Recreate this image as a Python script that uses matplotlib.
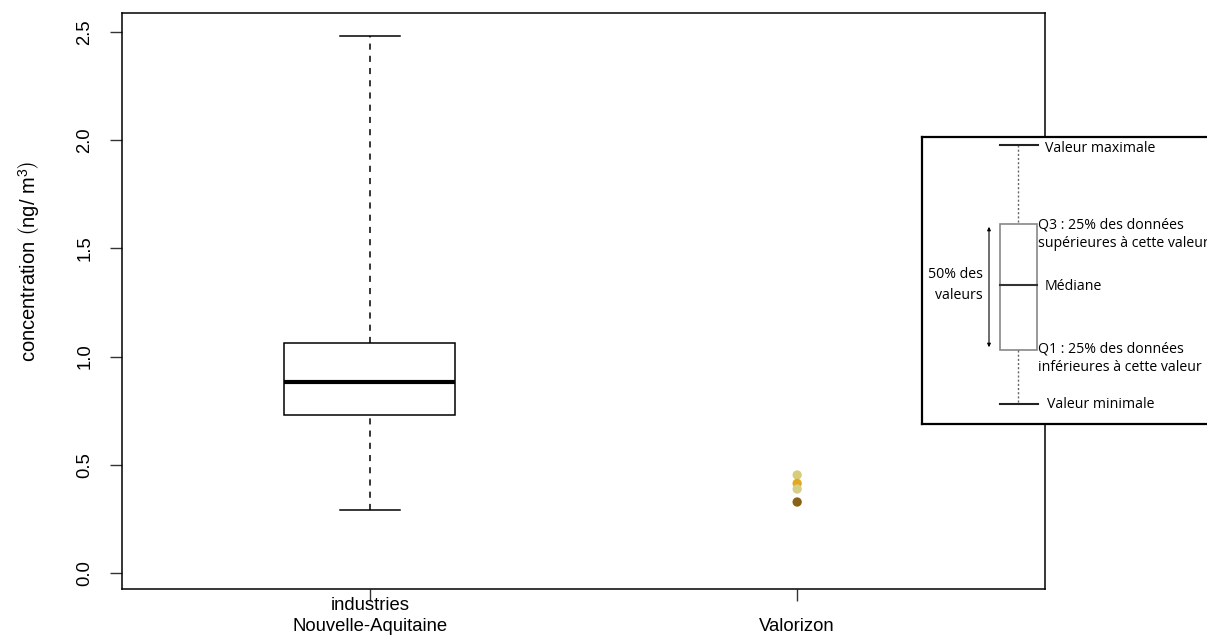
import matplotlib.pyplot as plt
from matplotlib.patches import Rectangle

plt.rcParams['font.family'] = ['Liberation Sans', 'DejaVu Sans']
plt.rcParams['mathtext.fontset'] = 'custom'
plt.rcParams['mathtext.rm'] = 'Liberation Sans'
plt.rcParams['mathtext.it'] = 'Liberation Sans'

# data
categories = ["industries\nNouvelle-Aquitaine", "\nValorizon"]
box_stats = dict(whislo=0.29, q1=0.73, med=0.883, q3=1.063, whishi=2.48)
valorizon_vals = [0.453, 0.414, 0.388, 0.328]
valorizon_cols = ["#d8cc7c", "#e2a824", "#d6cf86", "#8a6116"]
yticks = [0.0, 0.5, 1.0, 1.5, 2.0, 2.5]

fig = plt.figure(figsize=(12.07, 6.42), dpi=100)
ax = fig.add_axes([122 / 1207, (642 - 589) / 642, (1045 - 122) / 1207, (589 - 13) / 642])

# boxplot for the industries
s = box_stats
x0 = 1
bw = 0.2
cw = 0.07
ax.add_patch(Rectangle((x0 - bw, s['q1']), 2 * bw, s['q3'] - s['q1'],
                       facecolor='white', edgecolor='black', lw=1.1, zorder=2))
ax.plot([x0 - bw, x0 + bw], [s['med'], s['med']], color='black', lw=3, solid_capstyle='butt', zorder=3)
ax.plot([x0, x0], [s['q3'], s['whishi']], color='black', lw=1.1, ls=(0, (4, 4)))
ax.plot([x0, x0], [s['whislo'], s['q1']], color='black', lw=1.1, ls=(0, (4, 4)))
ax.plot([x0 - cw, x0 + cw], [s['whishi']] * 2, color='black', lw=1.1)
ax.plot([x0 - cw, x0 + cw], [s['whislo']] * 2, color='black', lw=1.1)

# Valorizon points
for v, c in zip(valorizon_vals, valorizon_cols):
    ax.scatter([2], [v], s=45, color=c, edgecolors='none', zorder=3)

ax.set_xlim(0.42, 2.58)
ax.set_ylim(-0.074, 2.588)
ax.set_xticks([1, 2])
ax.set_xticklabels(categories, fontsize=13.3, linespacing=1.35)
ax.set_yticks(yticks)
ax.set_yticklabels([f"{t:.1f}" for t in yticks], fontsize=13.3, rotation=90, va='center')
ax.tick_params(axis='both', length=8.6, width=1, direction='out', color='#333333')
ax.tick_params(axis='x', pad=-3)
ax.tick_params(axis='y', pad=12)
for sp in ax.spines.values():
    sp.set_linewidth(1.1)
ax.set_ylabel(r"concentration $\left(\mathrm{ng/\ m^{3}}\right)$", fontsize=14.5)
ax.yaxis.set_label_coords(-0.0867, 0.568)

# inset legend explaining the boxplot
lx = fig.add_axes([922 / 1207, (642 - 424) / 642, (1215 - 922) / 1207, 287 / 642])
lx.set_xlim(0, 293)
lx.set_ylim(287, 0)
lx.set_xticks([])
lx.set_yticks([])
for sp in lx.spines.values():
    sp.set_linewidth(1.6)
lx.spines['right'].set_visible(False)

bx, bx0, bx1 = 96, 78, 115
ymax, yq3, ymed, yq1, ymin = 8, 87, 148, 213, 267
lx.add_patch(Rectangle((bx0, yq3), bx1 - bx0, yq1 - yq3, facecolor='white', edgecolor='#888888', lw=1.2))
lx.plot([bx0, bx1], [ymed, ymed], color='#333333', lw=1.5)
lx.plot([bx, bx], [ymax, yq3], color='#666666', lw=1, ls=(0, (1.5, 1.5)))
lx.plot([bx, bx], [yq1, ymin], color='#666666', lw=1, ls=(0, (1.5, 1.5)))
lx.plot([bx0, bx1 + 1], [ymax, ymax], color='#222222', lw=1.5)
lx.plot([bx0, bx1 + 1], [ymin, ymin], color='#222222', lw=1.5)
lx.annotate("", xy=(67, yq3), xytext=(67, yq1),
            arrowprops=dict(arrowstyle='<|-|>', color='black', lw=0.8, mutation_scale=5))

fs = 10.2
ff = ['Open Sans', 'DejaVu Sans']
lx.text(123, ymax + 3, "Valeur maximale", fontsize=fs, family=ff, va='center', ha='left')
lx.text(116, yq3 + 10.5, "Q3 : 25% des données\nsupérieures à cette valeur", fontsize=fs, family=ff,
        va='center', ha='left', linespacing=1.28)
lx.text(123, ymed + 2, "Médiane", fontsize=fs, family=ff, va='center', ha='left')
lx.text(116, yq1 + 8, "Q1 : 25% des données\ninférieures à cette valeur", fontsize=fs, family=ff,
        va='center', ha='left', linespacing=1.28)
lx.text(125, ymin, "Valeur minimale", fontsize=fs, family=ff, va='center', ha='left')
lx.text(61, ymed, "50% des\nvaleurs", fontsize=fs, family=ff, va='center', ha='right',
        multialignment='right', linespacing=1.6)

fig.savefig("out.png", dpi=100)
